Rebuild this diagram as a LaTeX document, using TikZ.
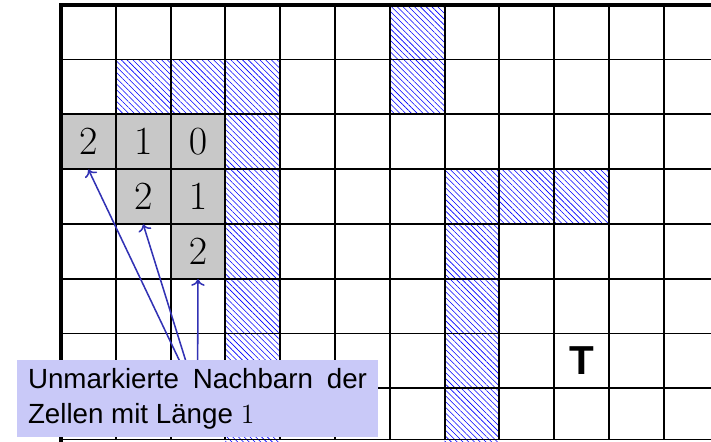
\documentclass[tikz,border=0pt]{standalone}
\usepackage[no-math]{fontspec}
\newfontfamily\lsans{Liberation Sans}
\usetikzlibrary{patterns,patterns.meta,arrows.meta}
\definecolor{cellgray}{RGB}{200,200,200}
\definecolor{boxfill}{RGB}{201,201,248}
\definecolor{arrowblue}{RGB}{50,50,180}
\tikzset{
  gridline/.style={line width=1pt,black},
  borderline/.style={line width=2.2pt,black},
  hatch/.style={pattern={Lines[angle=-45,distance=2.12pt,line width=0.3pt]},pattern color=blue},
  graycell/.style={fill=cellgray,minimum size=1cm,inner sep=0pt,font=\fontsize{22}{26}\selectfont},
  pointer/.style={arrowblue,line width=0.8pt,-{To[width=7pt,length=3.5pt]}},
  labelbox/.style={fill=boxfill,text width=176pt,align=justify,inner xsep=5.7pt,inner ysep=4pt,minimum height=40pt,font=\lsans\fontsize{14.4}{18}\selectfont},
  goal/.style={font=\lsans\bfseries\fontsize{21}{25}\selectfont}
}
\begin{document}
\begin{tikzpicture}
\useasboundingbox (-1.1131,0.0858) rectangle (11.8613,-7.9617);
\begin{scope}
\clip (-1.1131,0.0858) rectangle (11.8613,-7.9617);
% hatched cells
\foreach \c/\r in {6/0,1/1,2/1,3/1,6/1,3/2,3/3,7/3,8/3,9/3,3/4,7/4,3/5,7/5,3/6,7/6,3/7,7/7}
  \fill[hatch] (\c,-\r) rectangle ++(1,-1);
% gray cells with distances
\node[graycell] (c20) at (0.5,-2.5) {$2$};
\node[graycell] (c21) at (1.5,-2.5) {$1$};
\node[graycell] (c22) at (2.5,-2.5) {$0$};
\node[graycell] (c31) at (1.5,-3.5) {$2$};
\node[graycell] (c32) at (2.5,-3.5) {$1$};
\node[graycell] (c42) at (2.5,-4.5) {$2$};
% grid
\draw[gridline] (0,-7.934) grid (12,0);
\draw[gridline] (0,-7.934) -- (12,-7.934);
\draw[borderline] (0,-8) -- (0,0) -- (12,0);
% target
\node[goal] (t) at (9.5,-6.5) {T};
% pointers
\coordinate (lc) at (2.491,-7.186);
\draw[pointer] (lc) -- (c20.south);
\draw[pointer] (lc) -- (c31.south);
\draw[pointer] (lc) -- (c42.south);
\node[labelbox] (lab) at (lc) {Unmarkierte Nachbarn der Zellen mit Länge $1$};
\end{scope}
\end{tikzpicture}
\end{document}
